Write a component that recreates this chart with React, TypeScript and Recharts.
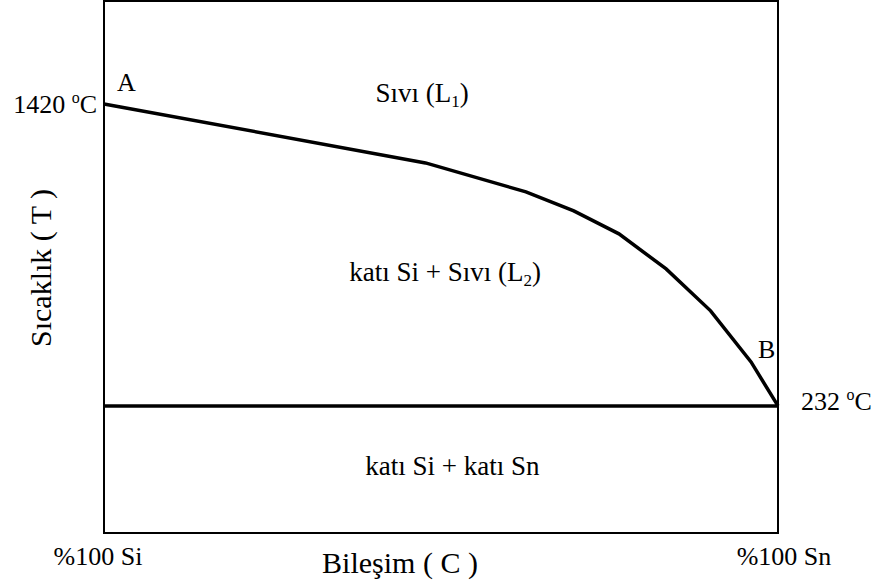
import React from "react"
import { LineChart, Line, XAxis, YAxis, ReferenceArea, ReferenceDot } from "recharts"

const FONT = "'Liberation Serif', 'Times New Roman', Times, serif"
const txt = { fontFamily: FONT }

// composition (% Sn) and temperature (°C)
const liquidusC = [0, 47.7, 62.6, 69.7, 76.4, 83.4, 90, 96, 100]
const liquidusT = [1420, 1188, 1074, 999, 909, 771, 606, 405, 232]
const eutecticC = [0, 100]
const eutecticT = [232, 232]
const xTicks = [0, 100]
const xTickLabels = ["%100 Si", "%100 Sn"]
const leftTicks = [1420]
const rightTicks = [232]
const tempDomain: [number, number] = [-268, 1825]

const liquidus = liquidusC.map((c, i) => ({ c, t: liquidusT[i] }))
const eutectic = eutecticC.map((c, i) => ({ c, t: eutecticT[i] }))

const Deg = ({ v }: { v: number }) => (
  <>
    {v + " "}
    <tspan dy={-10} fontSize={16}>o</tspan>
    <tspan dy={10}>C</tspan>
  </>
)

const Sub = ({ s }: { s: string }) => (
  <>
    <tspan dy={5} fontSize={17}>{s}</tspan>
    <tspan dy={-5}>)</tspan>
  </>
)

const textLabel =
  (content: React.ReactNode, dx: number, dy: number, anchor = "middle", size = 26) =>
  (props: any) => {
    const vb = props.viewBox || {}
    return (
      <text x={vb.x + dx} y={vb.y + dy} textAnchor={anchor} style={txt} fontSize={size} fill="#000">
        {content}
      </text>
    )
  }

const XTick = (props: any) => {
  const { x, y, payload } = props
  const i = xTicks.indexOf(payload.value)
  return (
    <text x={x + (i === 0 ? -6 : 6)} y={y + 32} textAnchor="middle" style={txt} fontSize={26} fill="#000">
      {xTickLabels[i]}
    </text>
  )
}

const YTick = (anchor: "start" | "end", dy: number) => (props: any) => {
  const { x, y, payload } = props
  return (
    <text x={x} y={y + dy} textAnchor={anchor} style={txt} fontSize={26} fill="#000">
      <Deg v={payload.value} />
    </text>
  )
}

export default function App() {
  return (
    <div style={{ width: 882, height: 586, background: "#fff" }}>
      <style>{"body{margin:0}"}</style>
      <LineChart width={882} height={586} margin={{ top: 1, right: 0, bottom: 0, left: 0 }}>
        <XAxis
          type="number"
          dataKey="c"
          domain={[0, 100]}
          ticks={xTicks}
          interval={0}
          height={53}
          axisLine={false}
          tickLine={false}
          tickSize={0}
          tickMargin={0}
          tick={<XTick />}
          label={textLabel("Bileşim ( C )", 296, 40, "middle", 30)}
        />
        <YAxis
          yAxisId="l"
          type="number"
          domain={tempDomain}
          allowDataOverflow
          ticks={leftTicks}
          width={104}
          axisLine={false}
          tickLine={false}
          tickSize={0}
          tickMargin={7}
          tick={YTick("end", 9)}
          label={(p: any) => (
            <text
              transform={`translate(${p.viewBox.x + 51}, 268) rotate(-90)`}
              textAnchor="middle"
              style={txt}
              fontSize={30}
              fill="#000"
            >
              Sıcaklık  ( T )
            </text>
          )}
        />
        <YAxis
          yAxisId="r"
          orientation="right"
          type="number"
          domain={tempDomain}
          allowDataOverflow
          ticks={rightTicks}
          width={104}
          axisLine={false}
          tickLine={false}
          tickSize={0}
          tickMargin={23}
          tick={YTick("start", 4)}
        />
        <ReferenceArea
          yAxisId="l"
          x1={0}
          x2={100}
          y1={tempDomain[0]}
          y2={tempDomain[1]}
          fill="none"
          stroke="#000"
          strokeWidth={2}
          ifOverflow="visible"
        />
        <Line
          yAxisId="l"
          data={liquidus}
          dataKey="t"
          type="linear"
          stroke="#000"
          strokeWidth={3.5}
          dot={false}
          isAnimationActive={false}
        />
        <Line
          yAxisId="l"
          data={eutectic}
          dataKey="t"
          type="linear"
          stroke="#000"
          strokeWidth={3.5}
          dot={false}
          isAnimationActive={false}
        />
        <ReferenceDot yAxisId="l" x={0} y={1420} r={0} fill="none" stroke="none" label={textLabel("A", 13, -13, "start")} />
        <ReferenceDot yAxisId="l" x={100} y={232} r={0} fill="none" stroke="none" label={textLabel("B", -20, -48, "start")} />
        <ReferenceDot
          yAxisId="l"
          x={47.2}
          y={1428}
          r={0}
          fill="none"
          stroke="none"
          label={textLabel(<>Sıvı (L<Sub s="1" /></>, 0, 0, "middle", 27)}
        />
        <ReferenceDot
          yAxisId="l"
          x={50.6}
          y={724}
          r={0}
          fill="none"
          stroke="none"
          label={textLabel(<>katı Si + Sıvı (L<Sub s="2" /></>, 0, 0, "middle", 27)}
        />
        <ReferenceDot
          yAxisId="l"
          x={51.7}
          y={-40}
          r={0}
          fill="none"
          stroke="none"
          label={textLabel("katı Si + katı Sn", 0, 0, "middle", 27)}
        />
      </LineChart>
    </div>
  )
}
